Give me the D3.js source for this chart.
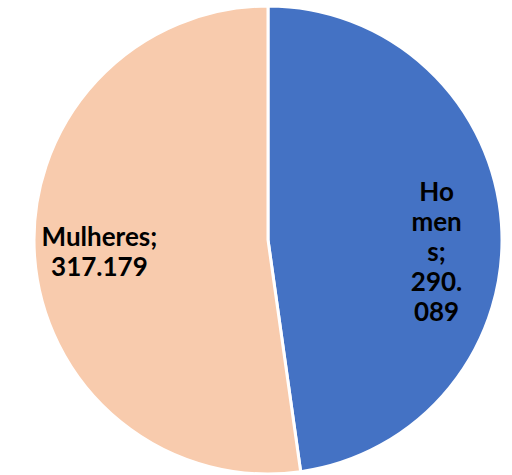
<!DOCTYPE html>
<html>
<head>
<meta charset="utf-8">
<script src="https://cdn.jsdelivr.net/npm/d3@7"></script>
<style>
  body { margin: 0; background: #fff; }
</style>
</head>
<body>
<div id="chart"></div>
<script>
// data
var categories = ["Homens", "Mulheres"];
var values = [290089, 317179];
var labelLines = [["Ho", "men", "s;", "290.", "089"], ["Mulheres;", "317.179"]];
var colors = ["#4472C4", "#F8CBAD"];

var width = 512, height = 475;
var cx = 268, cy = 240, radius = 234;

var svg = d3.select("#chart")
    .append("svg")
    .attr("width", width)
    .attr("height", height);

var g = svg.append("g")
    .attr("transform", "translate(" + cx + "," + cy + ")");

var pie = d3.pie().sort(null).value(function(d) { return d; });
var arcs = pie(values);

var arc = d3.arc().innerRadius(0).outerRadius(radius);

g.selectAll("path.slice")
    .data(arcs)
    .enter()
    .append("path")
    .attr("class", "slice")
    .attr("d", arc)
    .attr("fill", function(d, i) { return colors[i]; })
    .attr("stroke", "#fff")
    .attr("stroke-width", 3);

// labels: x from the arc centroid, lines stacked around a common baseline
var labelArc = d3.arc().innerRadius(169).outerRadius(169);
var lineH = 30;
var midBaseline = 21;

g.selectAll("text.lbl")
    .data(arcs)
    .enter()
    .append("text")
    .attr("class", "lbl")
    .attr("text-anchor", "middle")
    .style("font-family", "Lato, 'Open Sans', sans-serif")
    .style("font-weight", "bold")
    .style("font-size", "26px")
    .attr("fill", "#000")
    .each(function(d, i) {
        var c = labelArc.centroid(d);
        var lines = labelLines[i];
        var t = d3.select(this);
        var y0 = midBaseline - (lines.length - 1) * lineH / 2;
        lines.forEach(function(s, k) {
            t.append("tspan")
                .attr("x", c[0])
                .attr("y", y0 + k * lineH)
                .text(s);
        });
    });
</script>
</body>
</html>
